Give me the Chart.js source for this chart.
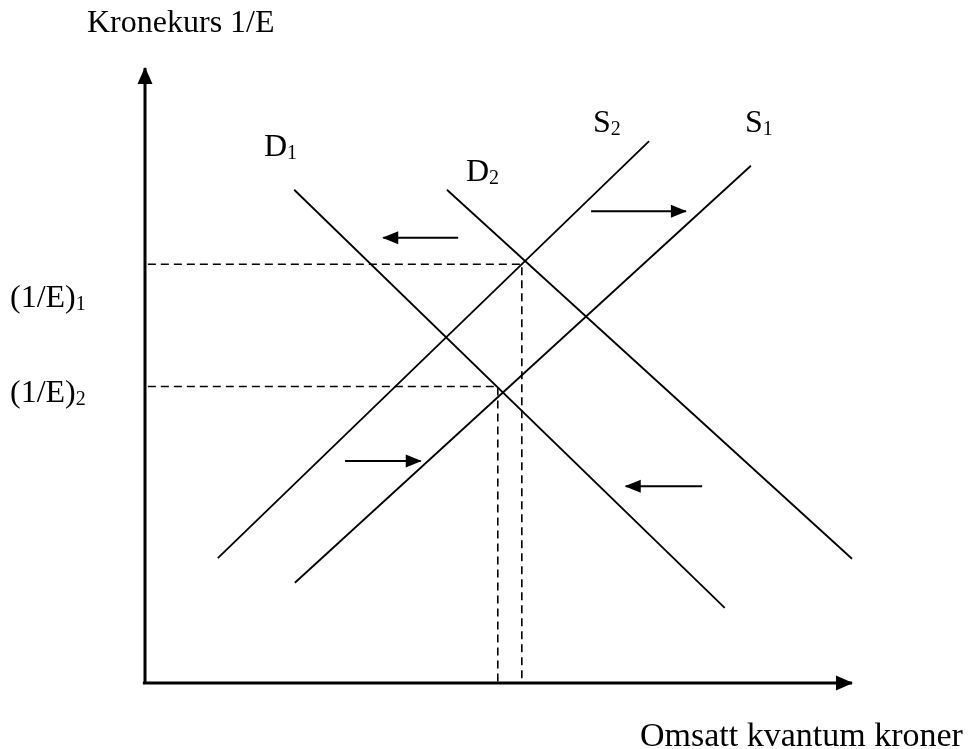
<!DOCTYPE html>
<html>
<head>
<meta charset="utf-8">
<script src="https://cdn.jsdelivr.net/npm/chart.js@4.4.1/dist/chart.umd.min.js"></script>
<style>
  html, body { margin: 0; padding: 0; background: #fff; }
</style>
</head>
<body>
<canvas id="c" width="973" height="749"></canvas>
<script>
// Kurver i relative enheter: x = omsatt kvantum, y = kronekurs (0-100)
const d1 = [{ x: 21.1, y: 80.2 }, { x: 82.0, y: 12.2 }];
const d2 = [{ x: 42.7, y: 80.2 }, { x: 100, y: 20.2 }];
const s2 = [{ x: 10.3, y: 20.3 }, { x: 71.3, y: 88.1 }];
const s1 = [{ x: 21.2, y: 16.3 }, { x: 85.7, y: 84.1 }];

// likevekter (kvantum, kurs)
const eq1 = { x: 53.3, y: 68.1 };
const eq2 = { x: 49.9, y: 48.2 };

// skift-piler: [start, spiss]
const shiftArrows = [
    [{ x: 44.3, y: 72.4 }, { x: 33.7, y: 72.4 }],
    [{ x: 63.1, y: 76.7 }, { x: 76.5, y: 76.7 }],
    [{ x: 28.3, y: 36.1 }, { x: 39.0, y: 36.1 }],
    [{ x: 78.8, y: 32.0 }, { x: 68.0, y: 32.0 }]
];

const FONT = '"Liberation Serif", "Times New Roman", serif';

function line(data, extra) {
    return Object.assign({
        data: data,
        showLine: true,
        borderColor: '#000',
        borderWidth: 1.8,
        pointRadius: 0,
        clip: false
    }, extra || {});
}

const datasets = [
    line([{ x: 0, y: 0 }, { x: 0, y: 100 }], { borderWidth: 3, arrow: { len: 16, half: 7.5 } }),
    line([{ x: -0.3, y: 0 }, { x: 100, y: 0 }], { borderWidth: 3, arrow: { len: 16, half: 7.5 } }),
    line(d1), line(d2), line(s1), line(s2),
    line([{ x: 0.4, y: eq1.y }, eq1, { x: eq1.x, y: 0 }], { borderDash: [8, 5], borderWidth: 1.6 }),
    line([{ x: 0.4, y: eq2.y }, eq2, { x: eq2.x, y: 0 }], { borderDash: [8, 5], borderWidth: 1.6 })
];
shiftArrows.forEach(a => datasets.push(line(a, { borderWidth: 2, arrow: { len: 15, half: 6.5 } })));

// Pilspisser i enden av datasett med 'arrow'
const arrowPlugin = {
    id: 'arrows',
    afterDatasetsDraw(chart) {
        const ctx = chart.ctx;
        chart.data.datasets.forEach((ds, i) => {
            if (!ds.arrow) return;
            const pts = chart.getDatasetMeta(i).data;
            const a = pts[pts.length - 2], b = pts[pts.length - 1];
            const ang = Math.atan2(b.y - a.y, b.x - a.x);
            const { len, half } = ds.arrow;
            ctx.save();
            ctx.translate(b.x, b.y);
            ctx.rotate(ang);
            ctx.fillStyle = '#000';
            ctx.beginPath();
            ctx.moveTo(1, 0);
            ctx.lineTo(-len, -half);
            ctx.lineTo(-len, half);
            ctx.closePath();
            ctx.fill();
            ctx.restore();
        });
    }
};

function subText(ctx, main, sub, x, y) {
    ctx.font = '32px ' + FONT;
    ctx.fillText(main, x, y);
    const w = ctx.measureText(main).width;
    ctx.font = '20px ' + FONT;
    ctx.fillText(sub, x + w, y + 3);
}

// Tekster
const labelPlugin = {
    id: 'labels',
    afterDraw(chart) {
        const ctx = chart.ctx;
        ctx.save();
        ctx.fillStyle = '#000';
        ctx.textBaseline = 'alphabetic';
        ctx.textAlign = 'left';
        ctx.font = '32px ' + FONT;
        ctx.fillText('Kronekurs 1/E', 87, 32);
        ctx.font = '34px ' + FONT;
        ctx.fillText('Omsatt kvantum kroner', 640, 746);
        subText(ctx, '(1/E)', '1', 10, 307);
        subText(ctx, '(1/E)', '2', 10, 402);
        subText(ctx, 'D', '1', 264, 156);
        subText(ctx, 'D', '2', 466, 181);
        subText(ctx, 'S', '2', 593, 132);
        subText(ctx, 'S', '1', 745, 132);
        ctx.restore();
    }
};

new Chart(document.getElementById('c'), {
    type: 'scatter',
    data: { datasets: datasets },
    options: {
        responsive: false,
        devicePixelRatio: 1,
        animation: false,
        layout: { padding: { left: 145, top: 68, right: 121, bottom: 66 } },
        plugins: { legend: { display: false }, tooltip: { enabled: false } },
        scales: {
            x: { type: 'linear', min: 0, max: 100, display: false },
            y: { type: 'linear', min: 0, max: 100, display: false }
        }
    },
    plugins: [arrowPlugin, labelPlugin]
});
</script>
</body>
</html>
